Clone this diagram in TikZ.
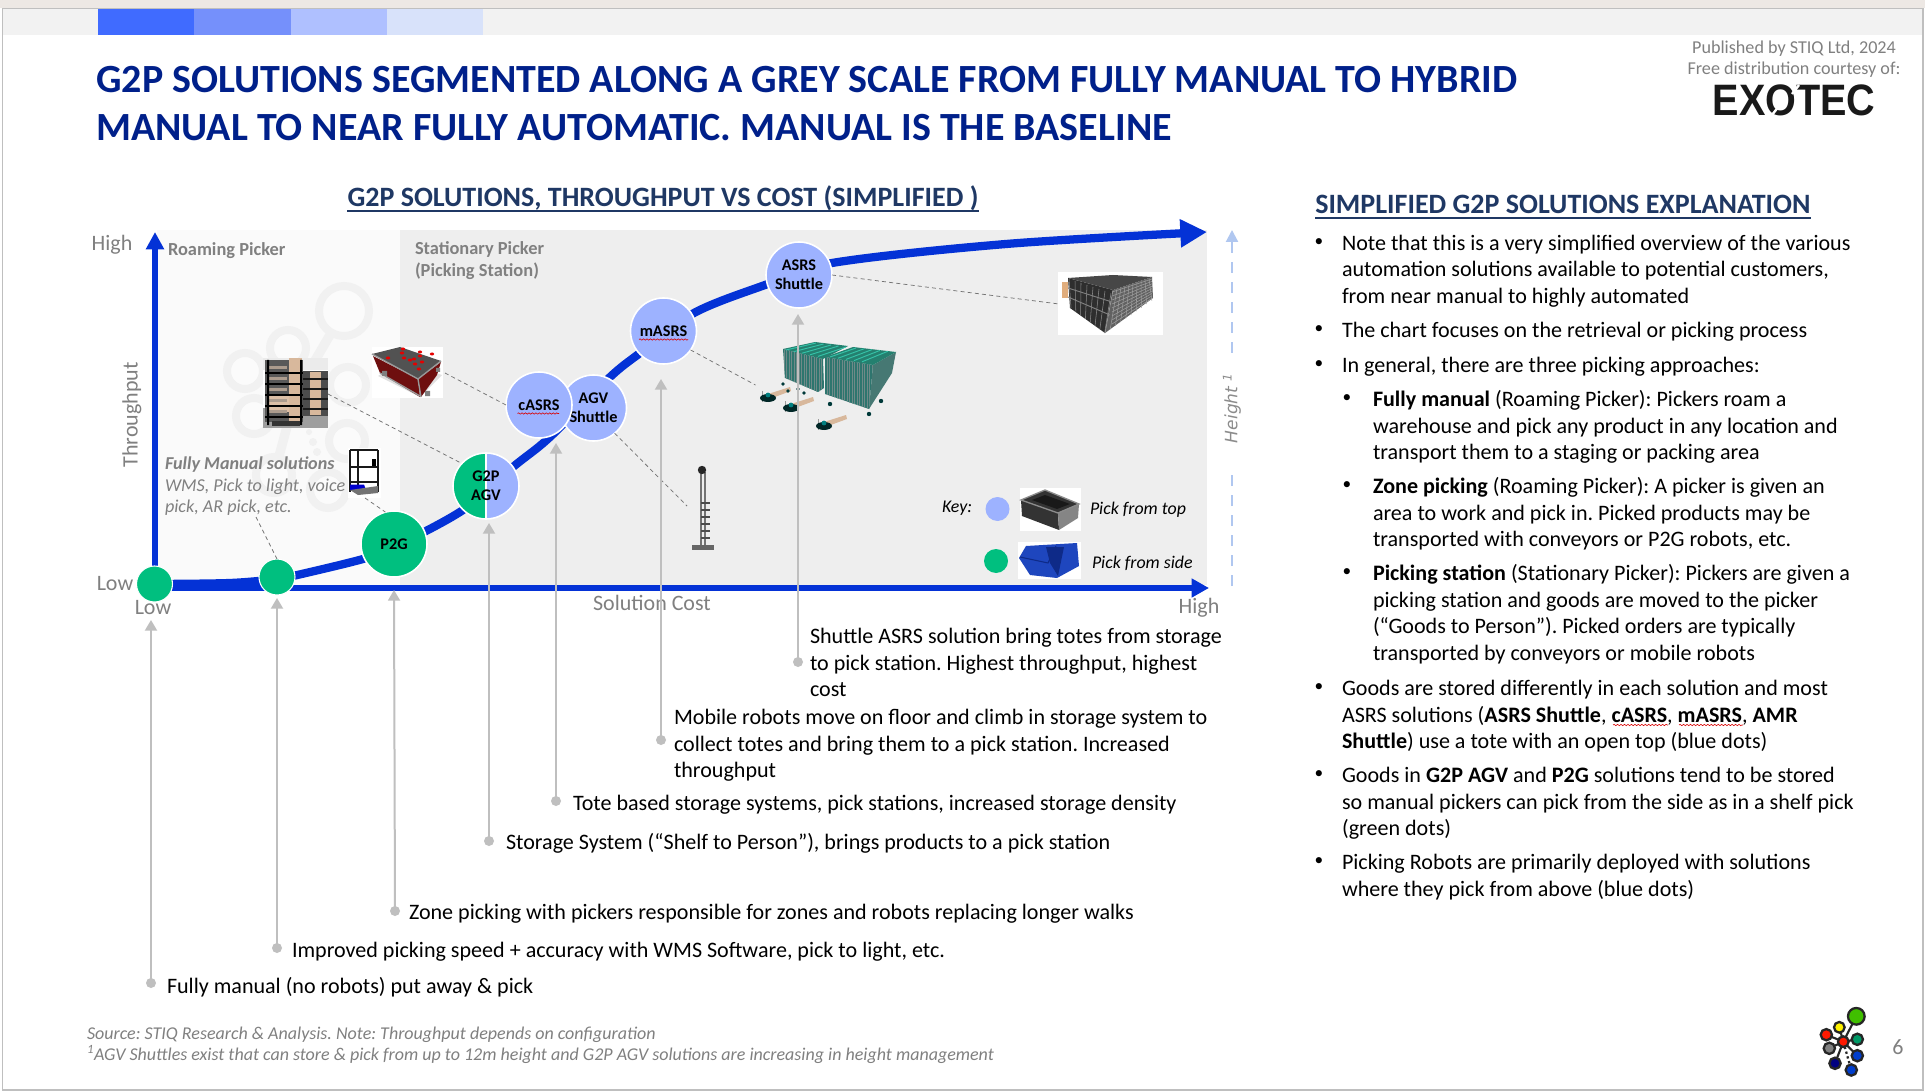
\documentclass[tikz,border=0pt]{standalone}
\usepackage{fontspec}
\setmainfont{Carlito}
\newfontfamily\exofont{Liberation Sans}
\newfontfamily\dvfont{DejaVu Sans}
\usetikzlibrary{arrows.meta,decorations.pathmorphing}
\frenchspacing
\definecolor{axisblue}{HTML}{0432D6}
\definecolor{dotblue}{HTML}{9DB2FF}
\definecolor{dotgreen}{HTML}{00BF7F}
\definecolor{titleblue}{HTML}{00208A}
\definecolor{headnavy}{HTML}{1F3864}
\definecolor{greytxt}{HTML}{808080}
\definecolor{leader}{HTML}{BFBFBF}
\definecolor{tan}{HTML}{D8B89C}
\definecolor{ringgrey}{HTML}{F1F1F1}
\definecolor{topstrip}{HTML}{EDE8E4}
\definecolor{bandA}{HTML}{406BFF}
\definecolor{bandB}{HTML}{7590FB}
\definecolor{bandC}{HTML}{AFC0FF}
\definecolor{bandD}{HTML}{D8E2FA}
\definecolor{heightblue}{HTML}{B0C7F0}
\definecolor{tableRed}{HTML}{6E0F0F}
\definecolor{storeFace}{HTML}{2E756E}
\definecolor{storeTop}{HTML}{24806F}
\definecolor{storeLine}{HTML}{6F8A88}
\definecolor{storeBright}{HTML}{35C2A8}
\definecolor{binBlue}{HTML}{1E46BE}
\definecolor{binDark}{HTML}{0E2A88}
\newcommand{\TS}{\rule{0pt}{12pt}}
\tikzset{
  txt/.style={anchor=north west,inner sep=0pt,outer sep=0pt,align=left,yshift=-1.1pt,font=\fontsize{16.55}{19.9}\selectfont,text=black},
  blt/.style={anchor=center,inner sep=0pt,outer sep=0pt,font=\fontsize{13}{16}\selectfont,text=black},
  axlab/.style={inner sep=0pt,outer sep=0pt,text=greytxt,font=\fontsize{16.5}{19}\selectfont},
  grey13/.style={anchor=north west,inner sep=0pt,outer sep=0pt,align=left,text=greytxt,font=\fontsize{13.7}{15.8}\selectfont},
  bub/.style={circle,draw=white,line width=1.2pt,minimum size=49.5pt,inner sep=0pt,outer sep=0pt,align=center,text=black,font=\fontsize{12.2}{14.4}\selectfont\bfseries},
  smalldot/.style={circle,draw=white,line width=.8pt,fill=dotgreen,minimum size=27pt,inner sep=0pt,outer sep=0pt},
  lead/.style={draw=leader,line width=1.5pt,-{Triangle[length=8pt,width=9pt]}},
  ldot/.style={circle,fill=leader,minimum size=7.5pt,inner sep=0pt,outer sep=0pt},
  thin dash/.style={draw=black!55,line width=.55pt,dash pattern=on 3pt off 2.4pt},
  squig/.style={draw=red!85!black,line width=.45pt,decorate,decoration={snake,amplitude=.5pt,segment length=2.6pt}},
  ringw/.style={draw=ringgrey,line width=6pt,fill=black!1.5},
  lg/.style={circle,draw=black!85,line width=1.7pt,inner sep=0pt,outer sep=0pt},
  keytxt/.style={anchor=west,inner sep=0pt,outer sep=0pt,text=black,font=\fontsize{13.4}{16}\selectfont\itshape},
  imgbox/.style={inner sep=0pt,outer sep=0pt,fill=white},
}
\begin{document}
\begin{tikzpicture}[x=0.75pt,y=-0.75pt]
\useasboundingbox (0,0) rectangle (1925,1091);
% ---- page
\fill[white] (0,0) rectangle (1925,1091);
\fill[topstrip] (0,0) rectangle (1925,8);
\draw[black!25,line width=1.2pt] (2.5,1090) -- (2.5,8.5) -- (1923,8.5) -- (1923,1090) -- cycle;
\fill[black!5] (3,9.5) rectangle (1922,35);
\fill[bandA] (98,9.5) rectangle (194,35);
\fill[bandB] (194,9.5) rectangle (291,35);
\fill[bandC] (291,9.5) rectangle (387,35);
\fill[bandD] (387,9.5) rectangle (483,35);
% ---- titles
\node[anchor=north west,inner sep=0pt,align=left,text=titleblue,font=\fontsize{30}{36}\selectfont\bfseries] (title) at (96,66)
 {G2P SOLUTIONS SEGMENTED ALONG A GREY SCALE FROM FULLY MANUAL TO HYBRID\\MANUAL TO NEAR FULLY AUTOMATIC. MANUAL IS THE BASELINE};
\node[inner sep=0pt,text=greytxt,align=center,font=\fontsize{13.6}{16}\selectfont] (pub) at (1794,59) {Published by STIQ Ltd, 2024\\Free distribution courtesy of:};
\node[anchor=base,inner sep=0pt,text=black!90,font=\exofont\bfseries\fontsize{33}{33}\selectfont] (exo) at (1794,116) {\scalebox{.9}[1]{EXOTEC}};
\draw[white,line width=1.8pt] (1799,85) -- (1792,94) (1772,115) -- (1779,106);
% ---- chart panels
\fill[black!2] (157,230) rectangle (400,585);
\fill[black!6.5] (400,230) rectangle (1207,585);
% faint watermark
\draw[ringgrey,line width=7pt] (296,393) -- (344,311) (296,393) -- (288,348) (296,393) -- (245,371) (296,393) -- (254,416) (296,393) -- (348,385) (296,393) -- (274,475);
\draw[ringw] (344,311) circle (25);
\foreach \a/\b in {288/348,245/371,254/416,348/385,347/441,274/475,328/490}{\draw[ringw] (\a,\b) circle (18);}
\fill[ringgrey] (313,442) circle (4) (317,452) circle (4) (309,432) circle (3);
% ---- coordinates of the curve
\coordinate (c0) at (155,584); \coordinate (c0b) at (230,583); \coordinate (c1) at (277,579); \coordinate (c1b) at (293,576); \coordinate (c2) at (363,559);
\coordinate (c3) at (394,547); \coordinate (c4) at (463,510); \coordinate (c5) at (513,467);
\coordinate (c6) at (550,437); \coordinate (c7) at (609,378); \coordinate (c8) at (640,353);
\coordinate (c9) at (694,313); \coordinate (c10) at (765,285); \coordinate (c11) at (832,263);
\coordinate (c12) at (1006,244); \coordinate (c13) at (1207,232);
% ---- axes
\coordinate (ytip) at (155,232); \coordinate (xtip) at (1209,588); \coordinate (orig) at (155,588);
\draw[axisblue,line width=4.1pt,-{Triangle[length=13pt,width=13pt]}] (orig) -- (ytip);
\draw[axisblue,line width=4.5pt,-{Triangle[length=13pt,width=13.5pt]}] (orig) -- (xtip);
\draw[axisblue,line width=6.2pt,-{Triangle[length=20pt,width=20pt]}] plot[smooth,tension=.55] coordinates {(c0) (c0b) (c1) (c1b) (c2) (c3) (c4) (c5) (c6) (c7) (c8) (c9) (c10) (c11) (c12) (c13)};
% height arrow
\coordinate (hb) at (1232,586); \coordinate (hm1) at (1232,470); \coordinate (hm2) at (1232,353); \coordinate (ht) at (1232,230);
\draw[heightblue,line width=1.6pt,dash pattern=on 8pt off 7pt] (hb) -- (hm1);
\draw[heightblue,line width=1.6pt,dash pattern=on 8pt off 7pt,-{Triangle[length=9pt,width=9pt]}] (hm2) -- (ht);
\node[rotate=90,inner sep=0pt,text=black!45,font=\dvfont\itshape\fontsize{12.8}{14}\selectfont] (hlab) at (1232,408) {Height \textsuperscript{1}};
% ---- axis labels
\node[axlab] (yhigh) at (112,245) {High};
\node[axlab] (ylow) at (115,584) {Low};
\node[axlab] (xlow) at (153,608) {Low};
\node[axlab] (xcost) at (652,603) {Solution Cost};
\node[axlab] (xhigh) at (1199,608) {High};
\node[axlab,rotate=90] (ythr) at (132,415) {Throughput};
\node[grey13,font=\fontsize{13.8}{15.8}\selectfont\bfseries] (roam) at (168,243) {Roaming Picker};
\node[grey13,font=\fontsize{13.8}{15.8}\selectfont\bfseries] (stat) at (415,242) {Stationary Picker\\(Picking Station)};
\node[grey13,font=\fontsize{13.6}{16}\selectfont\itshape] (fm) at (165,457) {\textbf{Fully Manual solutions}\\WMS, Pick to light, voice\\pick, AR pick, etc.};
% ---- pictures
% rack photo
\node[imgbox,minimum width=48.75pt,minimum height=52.5pt] (imgrack) at (295.5,393) {};
\fill[black!38] (263,408) rectangle (328,428);
\fill[black!8] (263,358) rectangle (328,370);
\fill[black!70] (302,371) rectangle (328,416);
\fill[tan] (310,372) rectangle (321,415);
\foreach \y in {378,388,398,408}{\fill[black!90] (302,\y) rectangle (328,\y+1.6);}
\fill[black!65] (265,360) rectangle (303,422);
\fill[tan] (289,358) rectangle (302,421);
\fill[tan!90!white] (268,394) rectangle (289,412);
\foreach \y in {372,383,394,405,416}{\fill[black] (265,\y) rectangle (303,\y+1.8); \fill[tan!50!gray] (269,\y-6) rectangle (287,\y-3);}
\fill[black] (267,360) rectangle (269,425) (300,360) rectangle (302,425);
\fill[black!80] (272,421) rectangle (300,426);
% red table
\node[imgbox,minimum width=53.25pt,minimum height=38.25pt] (imgtable) at (407.5,372.5) {};
\fill[black!12] (378,376) -- (420,397) -- (442,375) -- (400,362) -- cycle;
\fill[tableRed] (373,356) -- (380,373) -- (420,397) -- (418,379) -- cycle;
\fill[tableRed] (418,379) -- (441,362) -- (437,375) -- (421,397) -- cycle;
\fill[black!68] (372,354) -- (400,347) -- (441,361) -- (418,379) -- cycle;
\draw[black!40,line width=1pt] (372,354) -- (418,379) -- (441,361) (418,379) -- (421,397) (380,373) -- (420,396);
\foreach \a/\b in {402/353,404/358,410/360,414/359,420/356,415/364,422/362,432/354,420/352,388/358,419/369,403/349}{\fill[red!90!black] (\a,\b) ellipse (2.2 and 1.5);}
\fill[black!50] (382,371) rectangle (387,376) (425,391) rectangle (430,396) (436,368) rectangle (440,372);
% shelf robot
\node[imgbox,minimum width=24.75pt,minimum height=37.5pt] (imgshelf) at (364,472.5) {};
\draw[black!90,line width=1.1pt] (350,450) -- (350,492) (358,450) -- (358,488) (378,450) -- (378,492) (350,450) -- (378,450);
\draw[black!90,line width=1.6pt] (350,467) -- (378,467) (350,482) -- (378,482);
\fill[black] (372,459) rectangle (376,466);
\fill[blue!80!black] (350,484.5) -- (364,484.5) -- (366,490) -- (350,490) -- cycle;
\fill[black!55] (350,490) -- (378,486) -- (378,493) -- (358,495) -- cycle;
% teal storage
\coordinate (imgstore) at (840,376);
\begin{scope}
\clip (783,349) -- (823,359) -- (824,388) -- (818,392) -- (785,378) -- cycle;
\fill[storeFace] (780,340) rectangle (830,395);
\foreach \x in {784,786.5,...,826}{\draw[storeLine,line width=.5pt] (\x,345) -- (\x,395);}
\end{scope}
\fill[storeTop] (783,349) -- (815,342) -- (848,346) -- (823,359) -- cycle;
\foreach \i in {0,1,2,3,4}{\draw[storeBright,line width=.7pt] (786+\i*8,350-\i*.2+\i*1.8) -- (816+\i*7.5,343+\i*1);}
\begin{scope}
\clip (825,357) -- (873,365) -- (869,409) -- (825,394) -- cycle;
\fill[storeFace] (820,350) rectangle (880,410);
\foreach \x in {827,829.5,...,873}{\draw[storeLine,line width=.5pt] (\x,355) -- (\x,410);}
\end{scope}
\fill[storeFace!70!gray] (873,365) -- (896,352) -- (892,373) -- (869,409) -- cycle;
\fill[storeTop] (825,357) -- (853,347) -- (896,352) -- (873,365) -- cycle;
\foreach \i in {0,1,2,3,4}{\draw[storeBright,line width=.7pt] (830+\i*8,357+\i*1.2) -- (856+\i*8,348+\i*.8);}
\foreach \a/\b in {762/396, 785/406, 818/424}{
  \fill[tan] (\a+6,\b-2) -- (\a+28,\b-9) -- (\a+29,\b-5) -- (\a+10,\b+2) -- cycle;
  \draw[black!40,line width=.6pt] (\a,\b-5) -- (\a,\b+6);
  \fill[black!70!teal] (\a+6,\b+2) ellipse (8 and 4);
  \fill[teal] (\a+6,\b-1) circle (2.4);
}
\fill[black!55!teal] (783,384) circle (1.8) (788,391) circle (1.8) (798,389) circle (1.8) (804,393) circle (1.8) (830,404) circle (2.2) (881,401) circle (2.2) (869,414) circle (2.2);
% column shuttle
\coordinate (imgcol) at (702,508);
\draw[black!55,line width=.9pt] (701,472) -- (701,548) (705,472) -- (705,548);
\fill[black!85] (702,470) circle (4.2);
\foreach \y in {503,510,...,543}{\draw[black!70,line width=.9pt] (701,\y) -- (710,\y);}
\fill[black!60] (692,545) rectangle (714,550);
% building
\node[imgbox,minimum width=78.75pt,minimum height=47.25pt] (imgbld) at (1110.5,303.5) {};
\fill[black!82] (1068,278) -- (1113,290) -- (1105,333) -- (1070,308) -- cycle;
\fill[black!62] (1113,290) -- (1152,277) -- (1153,298) -- (1105,333) -- cycle;
\fill[black!72] (1068,278) -- (1113,275) -- (1152,277) -- (1113,290) -- cycle;
\foreach \i in {0,4,...,36}{\draw[black!38,line width=.4pt] (1113+\i,290-\i/3) -- (1105+\i*1.3,333-\i*.9);}
\foreach \i in {0,4,...,32}{\draw[black!38,line width=.4pt] (1112,292+\i) -- (1152,279+\i*.6);}
\foreach \i in {0,6,...,42}{\draw[black!45,line width=.4pt] (1069+\i,279+\i/3) -- (1071+\i*.8,308+\i*.6);}
\draw[black!50,line width=.7pt] (1068,288) -- (1112,302) (1068,297) -- (1110,315);
\fill[tan!80!orange] (1062,282) rectangle (1068,298);
% bins
\node[imgbox,minimum width=45.75pt,minimum height=32.25pt] (imgbina) at (1050.5,509.5) {};
\fill[black!80] (1021,500) -- (1045,490) -- (1079,504) -- (1058,513) -- (1059,530) -- (1022,516) -- cycle;
\fill[black!48] (1058,513) -- (1079,504) -- (1078,518) -- (1059,530) -- cycle;
\draw[black!45,line width=1pt] (1021,500) -- (1045,490) -- (1079,504) -- (1058,513) -- cycle;
\fill[black!90] (1032,500) -- (1045,495) -- (1070,504) -- (1057,509) -- cycle;
\node[imgbox,minimum width=47pt,minimum height=27.75pt] (imgbinb) at (1049.5,560.5) {};
\fill[binBlue] (1019,558) -- (1026,546) -- (1077,543) -- (1079,566) -- (1057,578) -- (1030,575) -- cycle;
\fill[binDark] (1046,547) -- (1064,547) -- (1058,576) -- (1050,563) -- cycle;
\draw[binDark,line width=.8pt] (1020,557) -- (1048,563) -- (1056,546);
% ---- free ends of the dashed links
\coordinate (drack) at (328,394); \coordinate (dtable) at (445,373); \coordinate (dshelf) at (365,498);
\coordinate (dfm) at (256,517); \coordinate (dstore) at (755.5,385); \coordinate (dcol) at (687,506); \coordinate (dbld) at (1059,304);
% ---- bubbles
\node[smalldot] (n0) at (154.5,584) {};
\node[smalldot] (n1) at (277,577) {};
\node[bub,fill=dotgreen] (p2g) at (394,544) {P2G};
\node[bub,fill=dotblue,path picture={\fill[dotgreen] (path picture bounding box.south west) rectangle (path picture bounding box.north); \draw[white,line width=1pt] (path picture bounding box.south) -- (path picture bounding box.north);}] (gtp) at (486,486) {G2P\\AGV};
\node[bub,fill=dotblue] (agv) at (593.5,408) {AGV\\Shuttle};
\node[bub,fill=dotblue] (casrs) at (539,405) {cASRS};
\node[bub,fill=dotblue] (masrs) at (663.5,331) {mASRS};
\node[bub,fill=dotblue] (asrs) at (799,275) {ASRS\\Shuttle};
\draw[squig] (517.5,413.5) -- (559,413.5);
\draw[squig] (639,339.5) -- (688,339.5);
\draw[thin dash] (drack) -- (gtp.137);
\draw[thin dash] (dtable) -- (casrs.180);
\draw[thin dash] (dshelf) -- (p2g.105);
\draw[thin dash] (dfm) -- (n1.90);
\draw[thin dash] (masrs.-35) -- (dstore);
\draw[thin dash] (agv.-50) -- (dcol);
\draw[thin dash] (asrs.0) -- (dbld);
% ---- key
\node[keytxt] (keyl) at (942,508) {Key:};
\node[circle,fill=dotblue,minimum size=18pt,inner sep=0pt] (keyb) at (997.5,509) {};
\node[circle,fill=dotgreen,minimum size=18pt,inner sep=0pt] (keyg) at (996,561) {};
\node[keytxt] (keyt) at (1090,510) {Pick from top};
\node[keytxt] (keys) at (1092,563) {Pick from side};
% ---- leaders
\coordinate (t1) at (151,620); \coordinate (t2) at (277,598); \coordinate (t3) at (394,590);
\coordinate (t4) at (489,523); \coordinate (t5) at (556,443); \coordinate (t6) at (661,379); \coordinate (t7) at (798,314);
\node[ldot] (d1) at (151,983) {}; \node[ldot] (d2) at (277,948) {}; \node[ldot] (d3) at (395,911) {};
\node[ldot] (d4) at (489,841) {}; \node[ldot] (d5) at (556,801) {}; \node[ldot] (d6) at (661,740) {}; \node[ldot] (d7) at (798,662) {};
\draw[lead] (d1.center) -- (t1); \draw[lead] (d2.center) -- (t2); \draw[lead] (d3.center) -- (t3);
\draw[lead] (d4.center) -- (t4); \draw[lead] (d5.center) -- (t5); \draw[lead] (d6.center) -- (t6); \draw[lead] (d7.center) -- (t7);
% ---- leader texts
\node[txt] (lt1) at (167,976) {\TS Fully manual (no robots) put away \& pick};
\node[txt] (lt2) at (292,940) {\TS Improved picking speed + accuracy with WMS Software, pick to light, etc.};
\node[txt] (lt3) at (409,902) {\TS Zone picking with pickers responsible for zones and robots replacing longer walks};
\node[txt] (lt4) at (506,832) {\TS Storage System (“Shelf to Person”), brings products to a pick station};
\node[txt] (lt5) at (573,793) {\TS Tote based storage systems, pick stations, increased storage density};
\node[txt] (lt6) at (674,707) {\TS Mobile robots move on floor and climb in storage system to\\collect totes and bring them to a pick station. Increased\\throughput};
\node[txt] (lt7) at (810,626) {\TS Shuttle ASRS solution bring totes from storage\\to pick station. Highest throughput, highest\\cost};
% ---- chart heading
\node[anchor=base,inner sep=0pt,text=headnavy,font=\fontsize{21}{24}\selectfont\bfseries] (chead) at (663,207) {G2P SOLUTIONS, THROUGHPUT VS COST (SIMPLIFIED )};
\draw[headnavy,line width=1.4pt] ([yshift=-3.2pt]chead.base west) -- ([yshift=-3.2pt]chead.base east);
\node[anchor=base west,inner sep=0pt,text=headnavy,font=\fontsize{21}{24}\selectfont\bfseries] (rhead) at (1315,214) {SIMPLIFIED G2P SOLUTIONS EXPLANATION};
\draw[headnavy,line width=1.4pt] ([yshift=-3.2pt]rhead.base west) -- ([yshift=-3.2pt]rhead.base east);
% ---- right column
\foreach \y/\n in {243/a,330/b,365/c,688/d,775/e,862/f}{\node[blt] (bu\n) at (1319,\y) {•};}
\foreach \y/\n in {399/g,486/h,573/i}{\node[blt] (bu\n) at (1347,\y) {•};}
\node[txt] (ra) at (1342,233) {\TS Note that this is a very simplified overview of the various\\automation solutions available to potential customers,\\from near manual to highly automated};
\node[txt] (rb) at (1342,320) {\TS The chart focuses on the retrieval or picking process};
\node[txt] (rc) at (1342,355) {\TS In general, there are three picking approaches:};
\node[txt] (rg) at (1373,389) {\TS \textbf{Fully manual} (Roaming Picker): Pickers roam a\\warehouse and pick any product in any location and\\transport them to a staging or packing area};
\node[txt] (rh) at (1373,476) {\TS \textbf{Zone picking} (Roaming Picker): A picker is given an\\area to work and pick in. Picked products may be\\transported with conveyors or P2G robots, etc.};
\node[txt] (ri) at (1373,563) {\TS \textbf{Picking station} (Stationary Picker): Pickers are given a\\picking station and goods are moved to the picker\\(“Goods to Person”). Picked orders are typically\\transported by conveyors or mobile robots};
\node[txt] (rd) at (1342,678) {\TS Goods are stored differently in each solution and most\\ASRS solutions (\textbf{ASRS Shuttle}, \textbf{cASRS}, \textbf{mASRS}, \textbf{AMR}\\\textbf{Shuttle}) use a tote with an open top (blue dots)};
\node[txt] (re) at (1342,765) {\TS Goods in \textbf{G2P AGV} and \textbf{P2G} solutions tend to be stored\\so manual pickers can pick from the side as in a shelf pick\\(green dots)};
\node[txt] (rf) at (1342,852) {\TS Picking Robots are primarily deployed with solutions\\where they pick from above (blue dots)};
\draw[squig] (1613,725) -- (1668,725);
\draw[squig] (1679,725) -- (1743,725);
% ---- footer
\node[grey13,font=\fontsize{13.5}{15.7}\selectfont\itshape] (foot) at (87,1027) {Source: STIQ Research \& Analysis. Note: Throughput depends on configuration\\\textsuperscript{1}AGV Shuttles exist that can store \& pick from up to 12m height and G2P AGV solutions are increasing in height management};
% ---- logo
\coordinate (lh) at (1843.3,1041.7);
\node[lg,fill=red!80!orange,minimum size=8pt] (lhub) at (lh) {};
\foreach \n/\x/\y/\c/\s in {ga/1856.3/1016.3/{green!50!olive}/12.5pt, gb/1839.3/1027.3/yellow/8pt, gc/1826.3/1034.7/{red!80!orange}/8.5pt, gd/1857.3/1039.3/{teal!80!green}/8.5pt, ge/1829.3/1048.3/{gray}/8.5pt, gf/1857.3/1055.7/{blue!70!cyan!80!black}/8.5pt, gg/1835/1063.3/{blue!50!black}/8.5pt}{
  \node[lg,fill=\c,minimum size=\s] (\n) at (\x,\y) {};
  \draw[black!85,line width=1.6pt] (lhub) -- (\n);
}
\node[lg,fill={blue!70!cyan!80!black},minimum size=8.5pt] (gh) at (1851.3,1070) {};
\draw[black!85,line width=1.7pt,dotted] (lhub) -- (gh);
\node[axlab] (pageno) at (1898,1047) {6};
\end{tikzpicture}
\end{document}
